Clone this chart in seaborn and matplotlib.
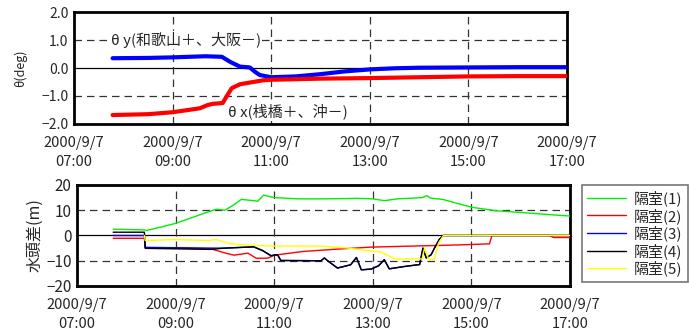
import numpy as np
import pandas as pd
import matplotlib
matplotlib.use("Agg")
import matplotlib.pyplot as plt
import matplotlib.dates as mdates
from matplotlib.ticker import FuncFormatter
import seaborn as sns

sns.set_style("white")
plt.rcParams["font.family"] = ["Noto Sans CJK JP", "DejaVu Sans"]
plt.rcParams["axes.unicode_minus"] = True

DAY = "2000-09-07 "

# --- upper chart: tilt (deg) ---
ty_time = ["07:47", "08:30", "09:00", "09:40", "10:00", "10:10", "10:22", "10:34",
           "10:40", "10:46", "11:00", "11:30", "12:00", "12:30", "13:00", "13:30",
           "14:00", "15:00", "16:00", "17:05"]
theta_y = [0.35, 0.36, 0.38, 0.42, 0.40, 0.22, 0.05, 0.02, -0.13, -0.25, -0.33,
           -0.30, -0.22, -0.12, -0.05, -0.01, 0.01, 0.02, 0.03, 0.03]

tx_time = ["07:47", "08:30", "09:00", "09:33", "09:43", "09:49", "10:01", "10:06",
           "10:12", "10:22", "10:38", "10:50", "11:00", "12:00", "13:00", "14:00",
           "15:00", "16:00", "17:05"]
theta_x = [-1.68, -1.65, -1.58, -1.44, -1.32, -1.28, -1.25, -1.00, -0.72, -0.58,
           -0.50, -0.44, -0.42, -0.38, -0.36, -0.33, -0.30, -0.29, -0.29]

# --- lower chart: head difference (m) ---
c1_time = ["07:44", "08:22", "08:25", "09:00", "09:40", "09:50", "10:00", "10:10",
           "10:20", "10:40", "10:47", "11:00", "11:30", "12:00", "12:41", "13:00",
           "13:14", "13:30", "14:00", "14:06", "14:10", "14:25", "15:00", "15:30",
           "16:05", "16:42", "17:00"]
c1 = [2.5, 2.2, 2.0, 4.8, 9.4, 10.4, 10.0, 12.0, 14.3, 13.6, 16.0, 15.0, 14.5,
      14.5, 14.7, 14.5, 13.8, 14.5, 15.0, 15.8, 14.8, 14.3, 11.2, 9.8, 9.0, 8.1, 7.7]

c2_time = ["07:44", "08:22", "08:23", "09:43", "10:01", "10:11", "10:28", "10:38",
           "10:52", "11:00", "11:36", "12:17", "12:58", "14:00", "14:48", "15:22",
           "15:25", "16:35", "16:40", "17:00"]
c2 = [-1.1, -1.1, -4.8, -5.3, -7.0, -7.8, -7.0, -9.0, -9.0, -7.8, -6.3, -5.4,
      -4.6, -4.1, -3.7, -3.3, 0.0, 0.0, -0.8, -0.8]

c3_time = ["07:44", "08:22", "08:23", "09:43", "10:00", "10:35", "10:46", "10:56",
           "11:04", "11:08", "11:57", "12:01", "12:05", "12:17", "12:33", "12:40",
           "12:46", "12:58", "13:07", "13:14", "13:20", "13:38", "13:57", "14:01",
           "14:05", "14:11", "14:15", "14:21", "14:26", "17:00"]
c3 = [0.0, 0.0, -4.7, -5.0, -5.0, -4.5, -6.0, -8.0, -7.6, -9.9, -10.0, -8.9,
      -10.0, -12.9, -11.6, -8.7, -13.6, -13.3, -12.0, -9.6, -13.2, -12.3, -11.5,
      -5.0, -8.9, -7.6, -5.0, -1.5, 0.0, 0.0]

c4_time = ["07:44", "08:22", "08:23", "09:43", "10:00", "10:35", "10:46", "10:56",
           "11:04", "11:08", "11:57", "12:01", "12:05", "12:17", "12:33", "12:40",
           "12:46", "12:58", "13:07", "13:14", "13:20", "13:38", "13:57", "14:01",
           "14:05", "14:11", "14:15", "14:21", "14:26", "17:00"]
c4 = [1.3, 1.3, -5.1, -5.5, -5.0, -4.5, -6.0, -8.0, -7.6, -9.9, -10.0, -8.9,
      -10.0, -12.9, -11.6, -8.7, -13.6, -13.3, -12.0, -9.6, -13.2, -12.3, -11.5,
      -5.0, -8.9, -7.6, -5.0, -1.5, 0.0, 0.0]

c5_time = ["08:22", "08:23", "09:00", "09:40", "09:50", "10:03", "10:10", "10:40",
           "11:00", "11:57", "12:30", "12:54", "13:10", "13:27", "14:00", "14:03",
           "14:08", "14:15", "14:20", "14:26", "17:00"]
c5 = [0.0, -2.0, -1.6, -2.0, -1.6, -3.0, -3.4, -4.0, -4.2, -4.2, -5.0, -6.0,
      -6.5, -9.3, -9.3, -5.0, -9.5, -9.5, -3.0, 0.0, 0.0]

labels = ["隔室(1)", "隔室(2)", "隔室(3)", "隔室(4)", "隔室(5)"]
colors = ["#00ee00", "#ff0000", "#0000ff", "#000000", "#ffff00"]


def to_dt(times):
    return pd.to_datetime([DAY + t for t in times])


def fmt_date(x, pos):
    d = mdates.num2date(x)
    return f"{d.year}/{d.month}/{d.day}\n{d:%H:%M}"


def style_axes(ax, ylim, yticks, yfmt, ysize):
    t0 = pd.Timestamp(DAY + "07:00")
    t1 = pd.Timestamp(DAY + "17:00")
    ax.set_xlim(t0, t1)
    ax.set_ylim(*ylim)
    ax.set_yticks(yticks)
    ax.set_yticklabels([yfmt(v) for v in yticks], fontsize=ysize)
    ax.set_xticks(pd.date_range(t0, t1, freq="2h"))
    ax.xaxis.set_major_formatter(FuncFormatter(fmt_date))
    ax.tick_params(axis="x", labelsize=10.5, length=0, pad=9)
    ax.tick_params(axis="y", length=0, pad=4)
    for lab in ax.get_xticklabels():
        lab.set_linespacing(1.4)
    for h in [yticks[1], yticks[-2]]:
        ax.axhline(h, color="#333333", lw=0.9, ls=(0, (6, 4)), zorder=1)
    ax.axhline(0, color="black", lw=0.9, zorder=1)
    for hr in ["09:00", "11:00", "13:00", "15:00"]:
        ax.axvline(pd.Timestamp(DAY + hr), color="#333333", lw=0.9,
                   ls=(0, (6, 4)), zorder=1)
    for s in ax.spines.values():
        s.set_linewidth(2)
        s.set_color("black")
    ax.set_xlabel("")


fig = plt.figure(figsize=(6.89, 3.31), dpi=100)
ax1 = fig.add_axes([0.1074, 0.6254, 0.7155, 0.3383])
ax2 = fig.add_axes([0.1118, 0.1360, 0.7155, 0.3051])

sns.lineplot(x=to_dt(ty_time), y=theta_y, ax=ax1, color="#0000ff", lw=3,
             estimator=None, sort=False, zorder=3)
sns.lineplot(x=to_dt(tx_time), y=theta_x, ax=ax1, color="#ff0000", lw=3,
             estimator=None, sort=False, zorder=3)
style_axes(ax1, (-2, 2), [-2, -1, 0, 1, 2],
           lambda v: f"{v:.1f}".replace("-", "\u2212"), 10)
ax1.set_ylabel("θ(deg)", fontsize=9, labelpad=10)
ax1.text(pd.Timestamp(DAY + "07:45"), 1.0, "θ y(和歌山＋、大阪－)", fontsize=10.8,
         va="center", ha="left", zorder=4,
         bbox=dict(facecolor="white", edgecolor="none", pad=1))
ax1.text(pd.Timestamp(DAY + "10:08"), -1.55, "θ x(桟橋＋、沖－)", fontsize=10.8,
         va="center", ha="left", zorder=4,
         bbox=dict(facecolor="white", edgecolor="none", pad=1))

series = [(c1_time, c1), (c2_time, c2), (c3_time, c3), (c4_time, c4), (c5_time, c5)]
for (tt, vv), lab, col in zip(series, labels, colors):
    sns.lineplot(x=to_dt(tt), y=vv, ax=ax2, color=col, lw=1.0, label=lab,
                 estimator=None, sort=False, zorder=3)
style_axes(ax2, (-20, 20), [-20, -10, 0, 10, 20],
           lambda v: f"{v:d}".replace("-", "\u2212"), 11)
ax2.set_ylabel("水頭差(m)", fontsize=11.5, labelpad=2)

handles, labs = ax2.get_legend_handles_labels()
ax2.get_legend().remove()
leg = fig.legend(handles, labs, loc="upper left", bbox_to_anchor=(0.845, 0.441),
                 borderaxespad=0, frameon=True, fancybox=False, fontsize=10.8,
                 handlelength=2.6, labelspacing=0.12, borderpad=0.35,
                 handletextpad=0.5)
leg.get_frame().set_edgecolor("#555555")
leg.get_frame().set_linewidth(1.2)

fig.savefig("out.png", dpi=100)
